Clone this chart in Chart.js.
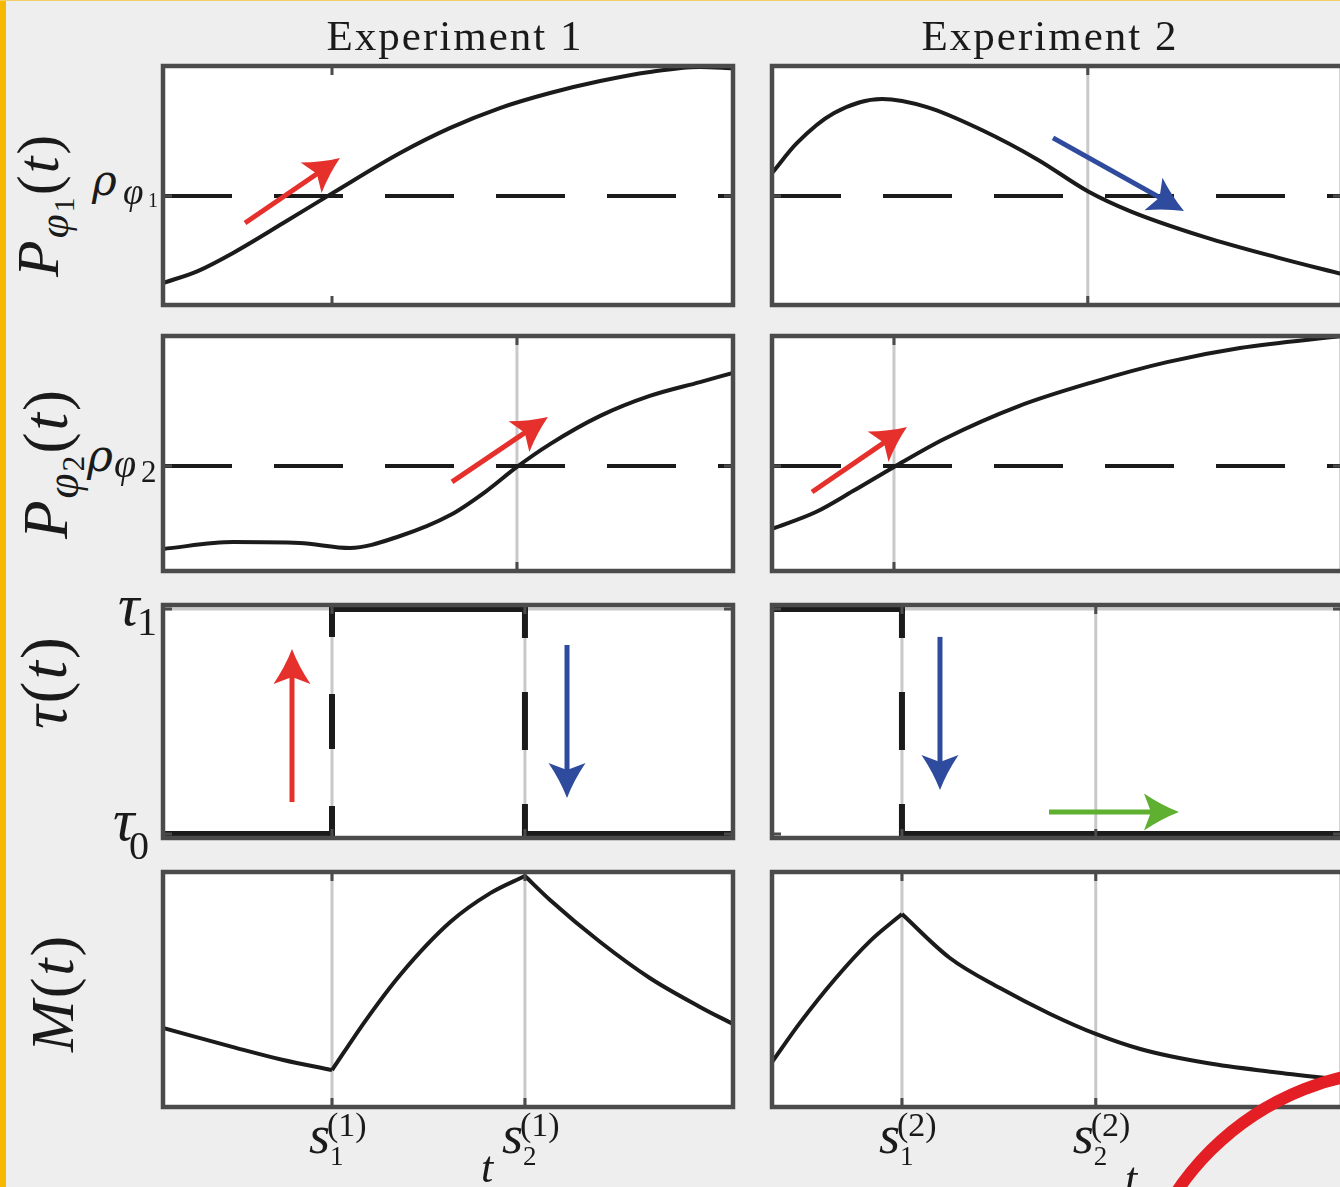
<!DOCTYPE html>
<html><head><meta charset="utf-8">
<script src="https://cdn.jsdelivr.net/npm/chart.js@4.4.1/dist/chart.umd.min.js"></script>
<style>
html,body{margin:0;padding:0}
body{width:1340px;height:1187px;overflow:hidden;background:#eeeeee;position:relative;font-family:"Liberation Serif","DejaVu Serif",serif;color:#1a1a1a}
#ybar{position:absolute;left:0;top:0;width:6px;height:1187px;background:#f6b800;z-index:5}
#topbar{position:absolute;left:0;top:0;width:1340px;height:1px;background:#f3cf6a;z-index:5}
canvas{position:absolute}
.g{position:absolute;line-height:1;white-space:nowrap}
.rt{position:absolute;line-height:1;white-space:nowrap;transform-origin:0 0;transform:rotate(-90deg);letter-spacing:2px}
#ring{position:absolute;box-sizing:border-box;border:12px solid #e31e24;border-radius:50%;z-index:10}
</style></head>
<body>
<div id="ybar"></div><div id="topbar"></div>
<script>
// ================= DATA =================
const experiments = ['Experiment 1', 'Experiment 2'];

// switching times s1, s2 (fraction of the time axis)
const sw_e1 = [0.2965, 0.635];
const sw_e2 = [0.228, 0.568];

// P_phi1(t)
const tP1_e1 = [0, 0.061, 0.123, 0.211, 0.298, 0.416, 0.504, 0.591, 0.679, 0.767, 0.854, 0.942, 1];
const vP1_e1 = [9.2, 14.2, 21.8, 34.3, 46.9, 63.6, 74.1, 82.4, 88.7, 93.7, 97.5, 99.6, 99.0];
const tP1_e2 = [0, 0.044, 0.109, 0.193, 0.272, 0.368, 0.467, 0.554, 0.628, 0.758, 0.889, 1];
const vP1_e2 = [55.2, 67.8, 80.3, 86.2, 82.8, 73.2, 60.7, 47.6, 39.3, 28.5, 19.7, 12.9];
const rhoPhi1 = 45.6;
const crossP1_e1 = 0.2965;
const crossP1_e2 = 0.554;

// P_phi2(t)
const tP2_e1 = [0, 0.123, 0.240, 0.328, 0.416, 0.504, 0.565, 0.621, 0.679, 0.767, 0.854, 0.942, 1];
const vP2_e1 = [9.4, 12.3, 11.9, 9.8, 14.9, 23.8, 33.6, 44.3, 54.0, 66.0, 74.5, 80.4, 84.3];
const tP2_e2 = [0, 0.077, 0.142, 0.214, 0.302, 0.433, 0.563, 0.693, 0.821, 1];
const vP2_e2 = [17.9, 25.1, 34.0, 44.3, 56.2, 70.2, 80.4, 88.9, 94.9, 100];
const rhoPhi2 = 44.7;
const crossP2_e1 = 0.621;
const crossP2_e2 = 0.214;

// tau(t): 0 = tau0, 1 = tau1
const tTau_e1 = [0, sw_e1[0], sw_e1[0], sw_e1[1], sw_e1[1], 1];
const vTau_e1 = [0, 0, 1, 1, 0, 0];
const tTau_e2 = [0, sw_e2[0], sw_e2[0], 1];
const vTau_e2 = [1, 1, 0, 0];

// M(t) pieces between switches
const tM_e1 = [[0, 0.123, 0.211, 0.2965], [0.2965, 0.356, 0.416, 0.504, 0.575, 0.635], [0.635, 0.679, 0.767, 0.854, 0.942, 1]];
const vM_e1 = [[33.6, 25.5, 20.0, 15.7], [15.7, 37.0, 56.2, 78.7, 91.1, 98.3], [98.3, 88.1, 70.2, 54.9, 42.6, 35.3]];
const tM_e2 = [[0, 0.049, 0.111, 0.172, 0.228], [0.228, 0.312, 0.4, 0.488, 0.568, 0.646, 0.763, 0.879, 1]];
const vM_e2 = [[19.1, 35.8, 54.6, 70.6, 82.1], [82.1, 63.4, 50.6, 39.6, 31.1, 24.7, 18.7, 14.9, 11.5]];

// arrows: [t_tail, v_tail, t_head, v_head]
const arrP1_e1 = [0.1439, 34.3, 0.3105, 61.5];
const arrP1_e2 = [0.493, 69.9, 0.7228, 39.3];
const arrP2_e1 = [0.507, 37.9, 0.6754, 65.5];
const arrP2_e2 = [0.0702, 33.6, 0.2368, 61.3];
const arrTauUp_e1 = [0.2263, 0.142, 0.2263, 0.822];
const arrTauDown_e1 = [0.7088, 0.84, 0.7088, 0.16];
const arrTauDown_e2 = [0.2947, 0.876, 0.2947, 0.196];
const arrTauFlat_e2 = [0.486, 0.098, 0.714, 0.098];

// tick labels
const rhoLabels = [['ρ', 'φ', '1'], ['ρ', 'φ', '2']];
const tauTickVals = [1, 0];
const tauLabels = [['τ', '1'], ['τ', '0']];
const sLabelSub = ['1', '2'];
const sLabelSup = ['(1)', '(2)'];
const xAxisTitle = 't';

// ================= LAYOUT / STYLE =================
const PAD = 8;
const colLeft = [163, 772];
const colW = 570;
const rowTop = [66, 336, 605, 872];
const rowBot = [305, 571, 838, 1107];
const INK = '#1b1b1b', FRAME = '#4b4b4b', GRID = '#c9c9c9';
const RED = '#e5302b', BLUE = '#2f4b9d', GREEN = '#5fb030';

function pts(ts, vs) { return ts.map((t, i) => ({ x: t, y: vs[i] })); }
function curve(ts, vs) {
  return { data: pts(ts, vs), borderColor: INK, borderWidth: 4, pointRadius: 0, cubicInterpolationMode: 'monotone', fill: false };
}
function threshold(v) {
  return { data: pts([0, 1], [v, v]), borderColor: INK, borderWidth: 4, pointRadius: 0, borderDash: [69, 42], fill: false };
}
const isVert = c => Math.abs(c.p0.x - c.p1.x) < 0.5;
function step(ts, vs) {
  return { data: pts(ts, vs), borderColor: INK, borderWidth: 6, pointRadius: 0, borderCapStyle: 'square', fill: false,
    segment: {
      borderDash: c => isVert(c) ? [55, 57] : undefined,
      borderDashOffset: c => isVert(c) ? 27 : undefined,
      borderCapStyle: c => isVert(c) ? 'butt' : undefined
    } };
}

function drawArrow(ctx, x0, y0, x1, y1, color) {
  const dx = x1 - x0, dy = y1 - y0, len = Math.hypot(dx, dy);
  const ux = dx / len, uy = dy / len, nx = -uy, ny = ux;
  const L = 35, W = 18.5, IND = 7;
  ctx.save();
  ctx.strokeStyle = color; ctx.fillStyle = color; ctx.lineWidth = 5; ctx.lineCap = 'butt';
  ctx.beginPath(); ctx.moveTo(x0, y0); ctx.lineTo(x1 - ux * (L - IND - 2), y1 - uy * (L - IND - 2)); ctx.stroke();
  const bx = x1 - ux * L, by = y1 - uy * L;
  const b1x = bx + nx * W, b1y = by + ny * W, b2x = bx - nx * W, b2y = by - ny * W;
  const nX = x1 - ux * (L - IND), nY = y1 - uy * (L - IND);
  const c1x = (x1 + b1x) / 2 - nx * 2.5, c1y = (y1 + b1y) / 2 - ny * 2.5;
  const c2x = (x1 + b2x) / 2 + nx * 2.5, c2y = (y1 + b2y) / 2 + ny * 2.5;
  ctx.beginPath(); ctx.moveTo(x1, y1);
  ctx.quadraticCurveTo(c1x, c1y, b1x, b1y);
  ctx.lineTo(nX, nY); ctx.lineTo(b2x, b2y);
  ctx.quadraticCurveTo(c2x, c2y, x1, y1);
  ctx.closePath(); ctx.fill();
  ctx.restore();
}

function panelPlugin(p) {
  return {
    id: 'panel',
    beforeDraw(chart) {
      const { ctx, chartArea: a } = chart;
      ctx.save(); ctx.fillStyle = '#ffffff'; ctx.fillRect(a.left, a.top, a.right - a.left, a.bottom - a.top); ctx.restore();
    },
    beforeDatasetsDraw(chart) {
      const { ctx, chartArea: a, scales: { x, y } } = chart;
      ctx.save(); ctx.strokeStyle = GRID; ctx.lineWidth = 3;
      p.xGrid.forEach(v => { const px = x.getPixelForValue(v); ctx.beginPath(); ctx.moveTo(px, a.top); ctx.lineTo(px, a.bottom); ctx.stroke(); });
      p.yGrid.forEach(v => { const py = y.getPixelForValue(v); ctx.beginPath(); ctx.moveTo(a.left, py); ctx.lineTo(a.right, py); ctx.stroke(); });
      ctx.restore();
    },
    afterDatasetsDraw(chart) {
      const { ctx, scales: { x, y } } = chart;
      p.arrows.forEach(ar => drawArrow(ctx, x.getPixelForValue(ar.a[0]), y.getPixelForValue(ar.a[1]), x.getPixelForValue(ar.a[2]), y.getPixelForValue(ar.a[3]), ar.color));
    },
    afterDraw(chart) {
      const { ctx, chartArea: a, scales: { x, y } } = chart;
      ctx.save(); ctx.strokeStyle = FRAME; ctx.lineWidth = 3;
      const T = 9;
      p.xTicks.forEach(v => { const px = x.getPixelForValue(v); ctx.beginPath(); ctx.moveTo(px, a.top); ctx.lineTo(px, a.top + T); ctx.moveTo(px, a.bottom); ctx.lineTo(px, a.bottom - T); ctx.stroke(); });
      p.yTicks.forEach(v => { const py = y.getPixelForValue(v); ctx.beginPath(); ctx.moveTo(a.left, py); ctx.lineTo(a.left + T, py); ctx.moveTo(a.right, py); ctx.lineTo(a.right - T, py); ctx.stroke(); });
      ctx.lineWidth = 4.5;
      ctx.strokeRect(a.left, a.top, a.right - a.left, a.bottom - a.top);
      ctx.restore();
    }
  };
}

const panels = [
  { row: 0, col: 0, ds: [curve(tP1_e1, vP1_e1), threshold(rhoPhi1)], y: [0, 100], xTicks: [crossP1_e1], xGrid: [], yTicks: [rhoPhi1], yGrid: [], arrows: [{ a: arrP1_e1, color: RED }] },
  { row: 0, col: 1, ds: [curve(tP1_e2, vP1_e2), threshold(rhoPhi1)], y: [0, 100], xTicks: [crossP1_e2], xGrid: [crossP1_e2], yTicks: [rhoPhi1], yGrid: [], arrows: [{ a: arrP1_e2, color: BLUE }] },
  { row: 1, col: 0, ds: [curve(tP2_e1, vP2_e1), threshold(rhoPhi2)], y: [0, 100], xTicks: [crossP2_e1], xGrid: [crossP2_e1], yTicks: [rhoPhi2], yGrid: [], arrows: [{ a: arrP2_e1, color: RED }] },
  { row: 1, col: 1, ds: [curve(tP2_e2, vP2_e2), threshold(rhoPhi2)], y: [0, 100], xTicks: [crossP2_e2], xGrid: [crossP2_e2], yTicks: [rhoPhi2], yGrid: [], arrows: [{ a: arrP2_e2, color: RED }] },
  { row: 2, col: 0, ds: [step(tTau_e1, vTau_e1)], y: [-0.01778, 1.01778], xTicks: sw_e1, xGrid: sw_e1, yTicks: tauTickVals, yGrid: [tauTickVals[0]], arrows: [{ a: arrTauUp_e1, color: RED }, { a: arrTauDown_e1, color: BLUE }] },
  { row: 2, col: 1, ds: [step(tTau_e2, vTau_e2)], y: [-0.01778, 1.01778], xTicks: sw_e2, xGrid: sw_e2, yTicks: tauTickVals, yGrid: [tauTickVals[0]], arrows: [{ a: arrTauDown_e2, color: BLUE }, { a: arrTauFlat_e2, color: GREEN }] },
  { row: 3, col: 0, ds: tM_e1.map((t, i) => curve(t, vM_e1[i])), y: [0, 100], xTicks: sw_e1, xGrid: sw_e1, yTicks: [], yGrid: [], arrows: [] },
  { row: 3, col: 1, ds: tM_e2.map((t, i) => curve(t, vM_e2[i])), y: [0, 100], xTicks: sw_e2, xGrid: sw_e2, yTicks: [], yGrid: [], arrows: [] }
];

const charts = [[null, null], [null, null], [null, null], [null, null]];
panels.forEach(p => {
  const c = document.createElement('canvas');
  const w = colW + 2 * PAD, h = rowBot[p.row] - rowTop[p.row] + 2 * PAD;
  c.width = w; c.height = h;
  c.style.width = w + 'px'; c.style.height = h + 'px';
  c.style.left = (colLeft[p.col] - PAD) + 'px';
  c.style.top = (rowTop[p.row] - PAD) + 'px';
  document.body.appendChild(c);
  charts[p.row][p.col] = new Chart(c, {
    type: 'line',
    data: { datasets: p.ds },
    options: {
      responsive: false, animation: false, events: [], devicePixelRatio: 1,
      layout: { padding: PAD },
      plugins: { legend: { display: false }, tooltip: { enabled: false } },
      elements: { point: { radius: 0 } },
      scales: {
        x: { type: 'linear', min: 0, max: 1, display: false },
        y: { type: 'linear', min: p.y[0], max: p.y[1], display: false }
      }
    },
    plugins: [panelPlugin(p)]
  });
});

// ================= TEXT =================
function glyph(txt, x, baseY, size, italic) {
  const e = document.createElement('span');
  e.className = 'g';
  e.textContent = txt;
  e.style.fontSize = size + 'px';
  e.style.left = x + 'px';
  e.style.top = (baseY - 0.8375 * size) + 'px';
  if (italic) e.style.fontStyle = 'italic';
  document.body.appendChild(e);
  return e;
}
function pxX(chart, v) { return chart.scales.x.getPixelForValue(v) + parseFloat(chart.canvas.style.left); }
function pxY(chart, v) { return chart.scales.y.getPixelForValue(v) + parseFloat(chart.canvas.style.top); }

// column titles
[455, 1050].forEach((cx, i) => {
  const e = glyph(experiments[i], cx, 50, 43, false);
  e.style.transform = 'translateX(-50%)';
  e.style.letterSpacing = '2px';
});

// row titles (rotated)
const rowTitles = [
  '<i>P</i><span style="font-size:0.72em;position:relative;top:0.24em"><i>φ</i><span style="font-size:0.7em;position:relative;top:0.18em">1</span></span>(<i>t</i>)',
  '<i>P</i><span style="font-size:0.72em;position:relative;top:0.24em"><i>φ</i><span style="font-size:0.7em;position:relative;top:0.18em">2</span></span>(<i>t</i>)',
  '<i>τ</i>(<i>t</i>)',
  '<i>M</i>(<i>t</i>)'
];
const titleFont = [60, 63, 66, 62];
const titleBase = [58, 68, 66, 73];
const titleStart = [277, 539, 729, 1052];
rowTitles.forEach((h, i) => {
  const e = document.createElement('div');
  e.className = 'rt';
  e.innerHTML = h;
  e.style.fontSize = titleFont[i] + 'px';
  e.style.left = (titleBase[i] - 0.8375 * titleFont[i]) + 'px';
  e.style.top = titleStart[i] + 'px';
  document.body.appendChild(e);
});

// rho tick labels
(function () {
  const c0 = charts[0][0], L0 = pxX(c0, 0), y0 = pxY(c0, rhoPhi1);
  const r0 = glyph(rhoLabels[0][0], L0 - 71, y0 - 1, 42, true); r0.style.fontFamily = '"DejaVu Serif", serif';
  glyph(rhoLabels[0][1], L0 - 40, y0 + 8, 37, true);
  glyph(rhoLabels[0][2], L0 - 15, y0 + 11, 20, false);
  const c1 = charts[1][0], L1 = pxX(c1, 0), y1 = pxY(c1, rhoPhi2);
  const r1 = glyph(rhoLabels[1][0], L1 - 76, y1 + 5, 44, true); r1.style.fontFamily = '"DejaVu Serif", serif';
  glyph(rhoLabels[1][1], L1 - 49, y1 + 12, 40, true);
  glyph(rhoLabels[1][2], L1 - 22, y1 + 16, 31, false);
})();

// tau tick labels
(function () {
  const c = charts[2][0], L = pxX(c, 0);
  const off = [[-45, 16, -26, 26], [-50, 6, -34, 26]];
  tauTickVals.forEach((v, i) => {
    const y = pxY(c, v);
    glyph(tauLabels[i][0], L + off[i][0], y + off[i][1], 60, true);
    glyph(tauLabels[i][1], L + off[i][2], y + off[i][3], 40, false);
  });
})();

// s tick labels on the bottom row
[sw_e1, sw_e2].forEach((sw, col) => {
  const c = charts[3][col];
  sw.forEach((s, k) => {
    const xs = pxX(c, s);
    glyph('s', xs - 23, 1153, 54, true);
    glyph(sLabelSub[k], xs - 2, 1166, 27, false);
    glyph(sLabelSup[col], xs - 5, 1136, 34, false);
  });
});

// x axis titles
glyph(xAxisTitle, 481, 1183, 44, true);
glyph(xAxisTitle, 1125, 1194, 44, true);

// highlight ring
(function () {
  const r = document.createElement('div');
  r.id = 'ring';
  const cx = 1405, cy = 1345, R = 281;
  r.style.left = (cx - R) + 'px'; r.style.top = (cy - R) + 'px';
  r.style.width = (2 * R) + 'px'; r.style.height = (2 * R) + 'px';
  document.body.appendChild(r);
})();
</script>
</body></html>
